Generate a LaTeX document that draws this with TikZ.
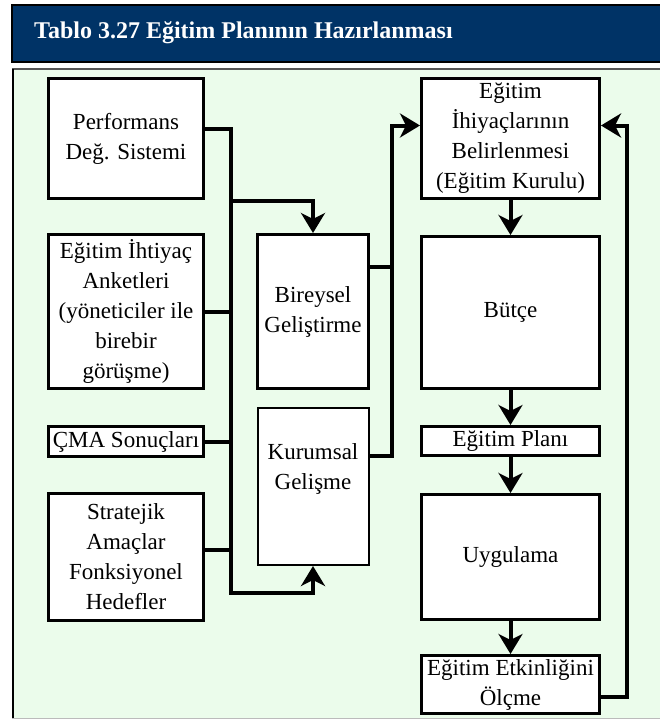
\documentclass[tikz,border=0pt]{standalone}
\usepackage{fontspec}
\setmainfont{Liberation Serif}
\usetikzlibrary{arrows.meta, positioning, calc}
\definecolor{titleNavy}{HTML}{003366}
\definecolor{panelGreen}{HTML}{EBFCEB}
\definecolor{panelEdge}{HTML}{555555}
\definecolor{panelLow}{HTML}{BBBBBB}
\newcommand{\boxfont}{\fontsize{23}{30}\selectfont}
\tikzset{
  boxW/.style={rectangle, draw=black, line width=3pt, fill=white,
               align=center, font=\boxfont, inner sep=2pt, minimum width=155pt},
  boxM/.style={boxW, minimum width=111pt},
  boxR/.style={boxW, minimum width=178pt},
  link/.style={line width=4pt, black},
  flow/.style={link, -{Stealth[length=20pt, width=24pt, inset=6pt]}},
  titleText/.style={text=white, font=\bfseries\fontsize{24}{28}\selectfont, inner sep=0pt},
}

\begin{document}
\begin{tikzpicture}[x=1pt, y=1pt, node distance=33pt and 51pt]
    \useasboundingbox (0,0) rectangle (659,-720);
    % header and panel
    \draw[fill=titleNavy, line width=1.2pt] (12,-5) rectangle (664,-62);
    \node[titleText, anchor=west] (title) at (34,-33) {Tablo 3.27 Eğitim Planının Hazırlanması};
    \fill[panelGreen] (12,-69) rectangle (664,-718);
    \draw[panelEdge, line width=1.5pt] (12,-69) -- (664,-69);
    \draw[panelLow, line width=1pt] (12,-718) -- (664,-718);
    \draw[black, line width=2.5pt] (13,-69) -- (13,-718);

    % left column
    \node[boxW, minimum height=120pt] (perf) at (126,-138.5) {Performans\\Değ. Sistemi};
    \node[boxW, minimum height=154pt, below=33pt of perf] (survey)
      {Eğitim İhtiyaç\\Anketleri\\(yöneticiler ile\\birebir\\görüşme)};
    \node[boxW, minimum height=30pt, below=35pt of survey] (cma) {ÇMA Sonuçları};
    \node[boxW, minimum height=127pt, below=34pt of cma] (strat)
      {Stratejik\\Amaçlar\\Fonksiyonel\\Hedefler};

    % middle column
    \node[boxM, minimum height=154pt, right=of survey] (indiv) {Bireysel\\Geliştirme};
    \node[boxM, line width=2pt, minimum height=157pt, text depth=40pt,
          below=17pt of indiv] (corp) {Kurumsal\\Gelişme};

    % right column
    \node[boxR, minimum height=120pt, right=215pt of perf] (needs)
      {Eğitim\\İhiyaçlarının\\Belirlenmesi\\(Eğitim Kurulu)};
    \node[boxR, minimum height=152pt, below=35pt of needs] (budget) {Bütçe};
    \node[boxR, minimum height=29pt, below=35pt of budget] (plan) {Eğitim Planı};
    \node[boxR, minimum height=125pt, below=36pt of plan] (apply) {Uygulama};
    \node[boxR, minimum height=58pt, below=33pt of apply] (measure)
      {Eğitim Etkinliğini\\Ölçme};

    % connectors
    \coordinate (busL) at (231,-593);
    \coordinate (busB) at (231,-201);
    \coordinate (busR) at (392,-300);
    \coordinate (loopR) at (627,-400);
    \draw[flow] ([yshift=10pt]perf.east) -| (busL) -| (corp.south);
    \draw[flow] (busB) -| (indiv.north);
    \draw[link] (survey.east) -- (survey.east -| busL);
    \draw[link] (cma.east) -- (cma.east -| busL);
    \draw[link] ([yshift=7pt]strat.east) -- ([yshift=7pt]strat.east -| busL);
    \draw[flow] ([yshift=31pt]corp.east) -| (busR) |- ([yshift=13pt]needs.west);
    \draw[link] ([yshift=45pt]indiv.east) -- ([yshift=45pt]indiv.east -| busR);
    \draw[flow] (needs) -- (budget);
    \draw[flow] (budget) -- (plan);
    \draw[flow] (plan) -- (apply);
    \draw[flow] (apply) -- (measure);
    \draw[flow] ([yshift=-12.5pt]measure.east) -| (loopR) |- ([yshift=13pt]needs.east);
  \end{tikzpicture}
\end{document}
